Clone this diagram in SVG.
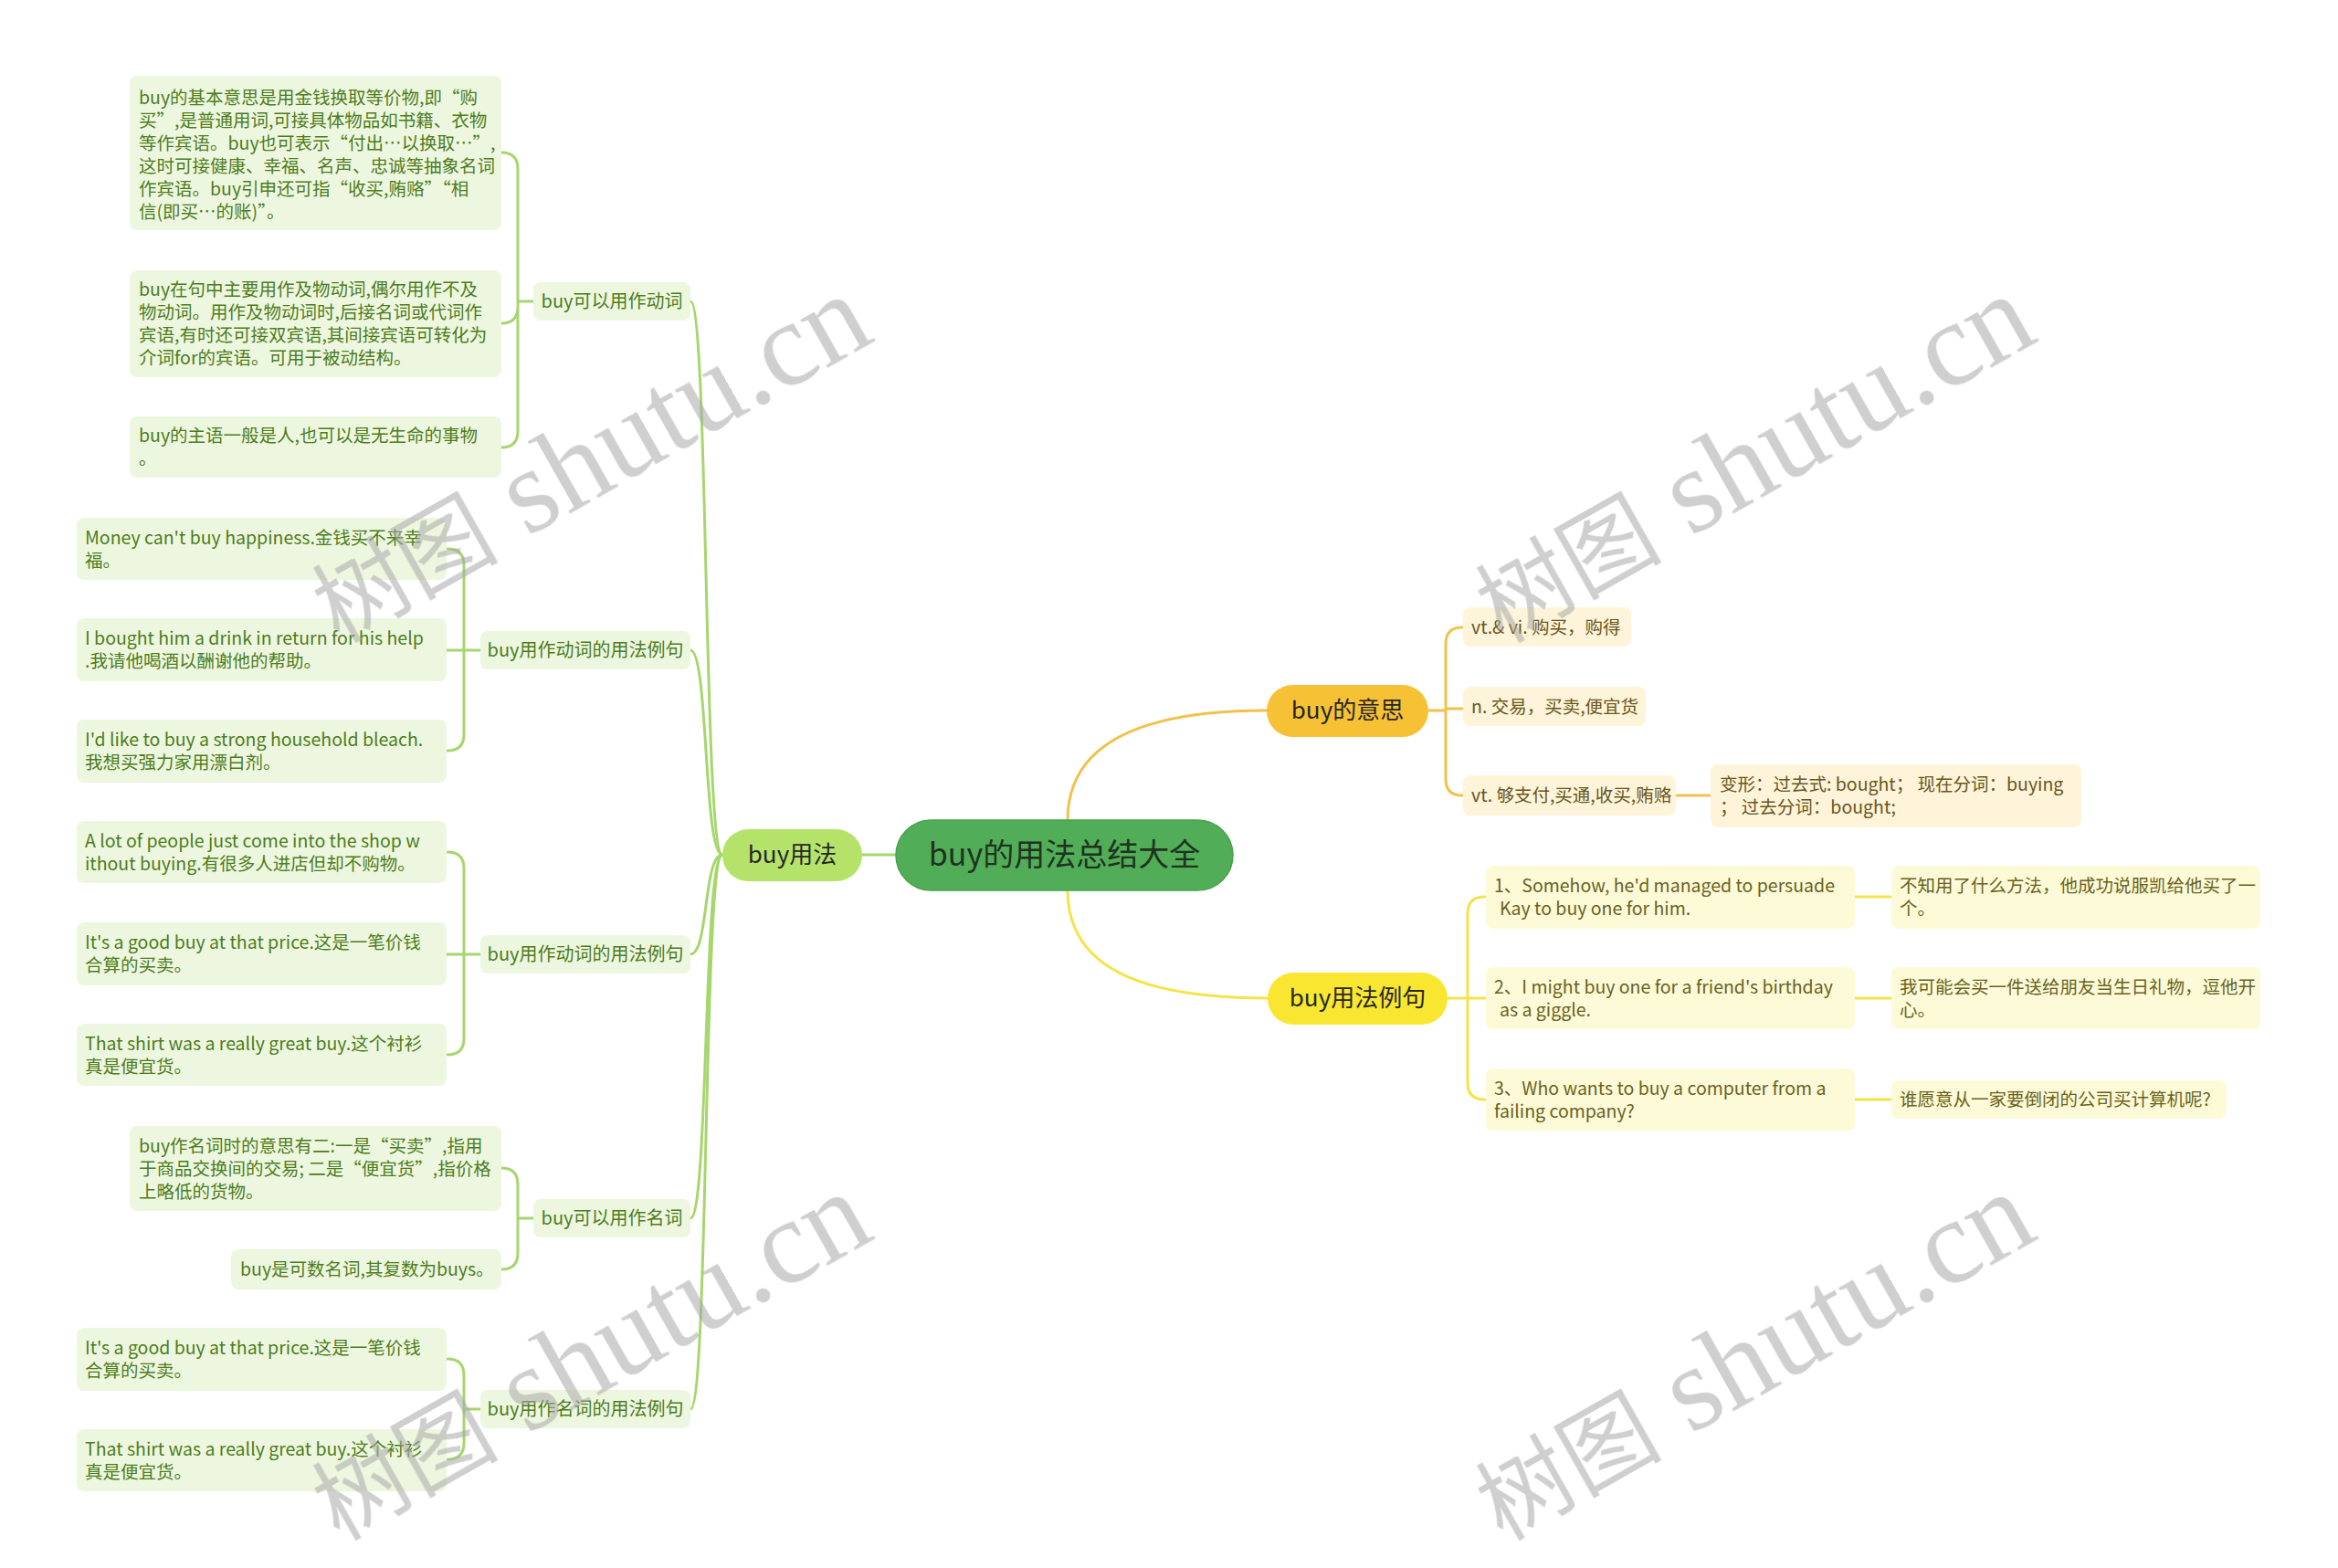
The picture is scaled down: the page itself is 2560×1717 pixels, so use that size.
<svg xmlns="http://www.w3.org/2000/svg" width="2560" height="1717" viewBox="0 0 2560 1717">
<style>
text{font-family:'Noto Sans CJK SC','Noto Sans',sans-serif;}
.cg path{fill:none;stroke-width:3;stroke-linecap:round}
.cgl{stroke:#a6d66d}
.cgo{stroke:#f1c24b}
.cgy{stroke:#f4e448}
.g3 rect{fill:#edf7df}
.g3 text{fill:#4d7c1c;font-size:19.5px}
.g2 rect{fill:#edf7df}
.g2 text{fill:#4d7c1c;font-size:20px;text-anchor:middle}
.o3 rect{fill:#fdf4d9}
.o3 text{fill:#6a561c;font-size:19.5px}
.y3 rect{fill:#fdfad7}
.y3 text{fill:#6a6220;font-size:19.5px}
.l1 text{font-size:26px;text-anchor:middle;fill:#262626}
.wm{fill:#a8a8a8;opacity:.55}
.wm .c{font-size:102px}
.wm .l{font-family:'Liberation Serif',serif;font-size:131px}
</style>

<g id="connectors" class="cg">
  <path class="cgl" d="M944,936 H981"/>
  <path class="cgo" d="M1169,898 C1169,813 1250,778 1387,778"/>
  <path class="cgy" d="M1169,975 C1169,1060 1250,1093 1388,1093"/>
  <path class="cgl" d="M791,936 C770,936 776,330 756,330"/>
  <path class="cgl" d="M791,936 C770,936 776,712 756,712"/>
  <path class="cgl" d="M791,936 C770,936 776,1045 756,1045"/>
  <path class="cgl" d="M791,936 C770,936 776,1334 756,1334"/>
  <path class="cgl" d="M791,936 C770,936 776,1543 756,1543"/>
  <path class="cgl" d="M584,330 H567 M567,330 V185 Q567,167 549,167 M567,330 V336 Q567,354 549,354 M567,330 V472 Q567,490 549,490"/>
  <path class="cgl" d="M526,712 H508 M508,712 V619 Q508,601 490,601 M508,712 H489 M508,712 V804 Q508,822 490,822"/>
  <path class="cgl" d="M526,1045 H508 M508,1045 V951 Q508,933 490,933 M508,1045 H489 M508,1045 V1137 Q508,1155 490,1155"/>
  <path class="cgl" d="M584,1334 H567 M567,1334 V1297 Q567,1279 549,1279 M567,1334 V1372 Q567,1390 549,1390"/>
  <path class="cgl" d="M526,1543 H508 M508,1543 V1506 Q508,1488 490,1488 M508,1543 V1580 Q508,1598 490,1598"/>
  <path class="cgo" d="M1564,778 H1583 M1583,778 V705 Q1583,687 1601,687 M1583,776 H1602 M1583,778 V853 Q1583,871 1601,871"/>
  <path class="cgo" d="M1835,871 H1873"/>
  <path class="cgy" d="M1585,1093 H1607 M1607,1093 V1000 Q1607,982 1626,982 M1607,1093 H1627 M1607,1093 V1186 Q1607,1204 1626,1204"/>
  <path class="cgy" d="M2031,982 H2071 M2031,1093 H2071 M2031,1204 H2071"/>
</g>

<g id="root">
  <rect x="981" y="898" width="369" height="77" rx="38.5" fill="#52ad58" stroke="#48a24f" stroke-width="1.5"/>
  <text x="1165.5" y="948" font-size="34" text-anchor="middle" fill="#1f331f">buy的用法总结大全</text>
</g>

<g id="n-usage" class="l1">
  <rect x="791" y="908" width="153" height="57" rx="28.5" fill="#b5e36a"/>
  <text x="867.5" y="945">buy用法</text>
</g>
<g id="n-meaning" class="l1">
  <rect x="1387" y="750" width="177" height="57" rx="28.5" fill="#f7c136"/>
  <text x="1475.5" y="787">buy的意思</text>
</g>
<g id="n-examples" class="l1">
  <rect x="1388" y="1065" width="197" height="57" rx="28.5" fill="#f8e631"/>
  <text x="1486.5" y="1102">buy用法例句</text>
</g>

<g id="n-verb" class="g2">
  <rect x="584" y="309" width="172" height="42" rx="8"/>
  <text x="670" y="337">buy可以用作动词</text>
</g>
<g id="n-verb-ex1" class="g2">
  <rect x="526" y="691" width="230" height="42" rx="8"/>
  <text x="641" y="719">buy用作动词的用法例句</text>
</g>
<g id="n-verb-ex2" class="g2">
  <rect x="526" y="1024" width="230" height="42" rx="8"/>
  <text x="641" y="1052">buy用作动词的用法例句</text>
</g>
<g id="n-noun" class="g2">
  <rect x="584" y="1313" width="172" height="42" rx="8"/>
  <text x="670" y="1341">buy可以用作名词</text>
</g>
<g id="n-noun-ex" class="g2">
  <rect x="526" y="1522" width="230" height="42" rx="8"/>
  <text x="641" y="1550">buy用作名词的用法例句</text>
</g>

<g id="v1" class="g3">
  <rect x="142" y="83" width="407" height="169" rx="8"/>
  <text x="152" y="114">buy的基本意思是用金钱换取等价物,即“购</text>
  <text x="152" y="139">买”,是普通用词,可接具体物品如书籍、衣物</text>
  <text x="152" y="164">等作宾语。buy也可表示“付出…以换取…”,</text>
  <text x="152" y="189">这时可接健康、幸福、名声、忠诚等抽象名词</text>
  <text x="152" y="214">作宾语。buy引申还可指“收买,贿赂”“相</text>
  <text x="152" y="239">信(即买…的账)”。</text>
</g>
<g id="v2" class="g3">
  <rect x="142" y="296" width="407" height="117" rx="8"/>
  <text x="152" y="324">buy在句中主要用作及物动词,偶尔用作不及</text>
  <text x="152" y="349">物动词。用作及物动词时,后接名词或代词作</text>
  <text x="152" y="374">宾语,有时还可接双宾语,其间接宾语可转化为</text>
  <text x="152" y="399">介词for的宾语。可用于被动结构。</text>
</g>
<g id="v3" class="g3">
  <rect x="142" y="456" width="407" height="67" rx="8"/>
  <text x="152" y="484">buy的主语一般是人,也可以是无生命的事物</text>
  <text x="152" y="509">。</text>
</g>
<g id="ve1a" class="g3">
  <rect x="84" y="567" width="405" height="68" rx="8"/>
  <text x="93" y="595.5">Money can't buy happiness.金钱买不来幸</text>
  <text x="93" y="620.5">福。</text>
</g>
<g id="ve1b" class="g3">
  <rect x="84" y="677" width="405" height="69" rx="8"/>
  <text x="93" y="706">I bought him a drink in return for his help</text>
  <text x="93" y="731">.我请他喝酒以酬谢他的帮助。</text>
</g>
<g id="ve1c" class="g3">
  <rect x="84" y="788" width="405" height="69" rx="8"/>
  <text x="93" y="817">I'd like to buy a strong household bleach.</text>
  <text x="93" y="842">我想买强力家用漂白剂。</text>
</g>
<g id="ve2a" class="g3">
  <rect x="84" y="899" width="405" height="68" rx="8"/>
  <text x="93" y="927.5">A lot of people just come into the shop w</text>
  <text x="93" y="952.5">ithout buying.有很多人进店但却不购物。</text>
</g>
<g id="ve2b" class="g3">
  <rect x="84" y="1010" width="405" height="69" rx="8"/>
  <text x="93" y="1039">It's a good buy at that price.这是一笔价钱</text>
  <text x="93" y="1064">合算的买卖。</text>
</g>
<g id="ve2c" class="g3">
  <rect x="84" y="1121" width="405" height="68" rx="8"/>
  <text x="93" y="1149.5">That shirt was a really great buy.这个衬衫</text>
  <text x="93" y="1174.5">真是便宜货。</text>
</g>
<g id="n1" class="g3">
  <rect x="142" y="1233" width="407" height="93" rx="8"/>
  <text x="152" y="1261.5">buy作名词时的意思有二:一是“买卖”,指用</text>
  <text x="152" y="1286.5">于商品交换间的交易; 二是“便宜货”,指价格</text>
  <text x="152" y="1311.5">上略低的货物。</text>
</g>
<g id="n2" class="g3">
  <rect x="253" y="1368" width="296" height="44" rx="8"/>
  <text x="263" y="1397">buy是可数名词,其复数为buys。</text>
</g>
<g id="ne-a" class="g3">
  <rect x="84" y="1454" width="405" height="69" rx="8"/>
  <text x="93" y="1483">It's a good buy at that price.这是一笔价钱</text>
  <text x="93" y="1508">合算的买卖。</text>
</g>
<g id="ne-b" class="g3">
  <rect x="84" y="1565" width="405" height="68" rx="8"/>
  <text x="93" y="1593.5">That shirt was a really great buy.这个衬衫</text>
  <text x="93" y="1618.5">真是便宜货。</text>
</g>

<g id="m1" class="o3">
  <rect x="1602" y="665" width="184" height="43" rx="8"/>
  <text x="1611" y="693.5">vt.&amp; vi. 购买，购得</text>
</g>
<g id="m2" class="o3">
  <rect x="1602" y="752" width="200" height="43" rx="8"/>
  <text x="1611" y="780.5">n. 交易，买卖,便宜货</text>
</g>
<g id="m3" class="o3">
  <rect x="1602" y="849" width="233" height="44" rx="8"/>
  <text x="1611" y="878">vt. 够支付,买通,收买,贿赂</text>
</g>
<g id="m3a" class="o3">
  <rect x="1873" y="837" width="406" height="69" rx="8"/>
  <text x="1883" y="866">变形：过去式: bought；  现在分词：buying</text>
  <text x="1883" y="891">；  过去分词：bought;</text>
</g>

<g id="e1" class="y3">
  <rect x="1627" y="948" width="404" height="69" rx="8"/>
  <text x="1636" y="977">1、Somehow, he'd managed to persuade</text>
  <text x="1642" y="1002">Kay to buy one for him.</text>
</g>
<g id="e1b" class="y3">
  <rect x="2071" y="948" width="404" height="69" rx="8"/>
  <text x="2080" y="977">不知用了什么方法，他成功说服凯给他买了一</text>
  <text x="2080" y="1002">个。</text>
</g>
<g id="e2" class="y3">
  <rect x="1627" y="1059" width="404" height="68" rx="8"/>
  <text x="1636" y="1087.5">2、I might buy one for a friend's birthday</text>
  <text x="1642" y="1112.5">as a giggle.</text>
</g>
<g id="e2b" class="y3">
  <rect x="2071" y="1059" width="404" height="68" rx="8"/>
  <text x="2080" y="1087.5">我可能会买一件送给朋友当生日礼物，逗他开</text>
  <text x="2080" y="1112.5">心。</text>
</g>
<g id="e3" class="y3">
  <rect x="1627" y="1170" width="404" height="68" rx="8"/>
  <text x="1636" y="1198.5">3、Who wants to buy a computer from a</text>
  <text x="1636" y="1223.5">failing company?</text>
</g>
<g id="e3b" class="y3">
  <rect x="2071" y="1183" width="367" height="42" rx="8"/>
  <text x="2080" y="1211">谁愿意从一家要倒闭的公司买计算机呢?</text>
</g>

<g id="watermarks" class="wm">
  <text transform="translate(371,705) rotate(-29.5)"><tspan class="c">树图</tspan><tspan class="l"> shutu.cn</tspan></text>
  <text transform="translate(1645,705) rotate(-29.5)"><tspan class="c">树图</tspan><tspan class="l"> shutu.cn</tspan></text>
  <text transform="translate(371,1688) rotate(-29.5)"><tspan class="c">树图</tspan><tspan class="l"> shutu.cn</tspan></text>
  <text transform="translate(1645,1688) rotate(-29.5)"><tspan class="c">树图</tspan><tspan class="l"> shutu.cn</tspan></text>
</g>
</svg>
